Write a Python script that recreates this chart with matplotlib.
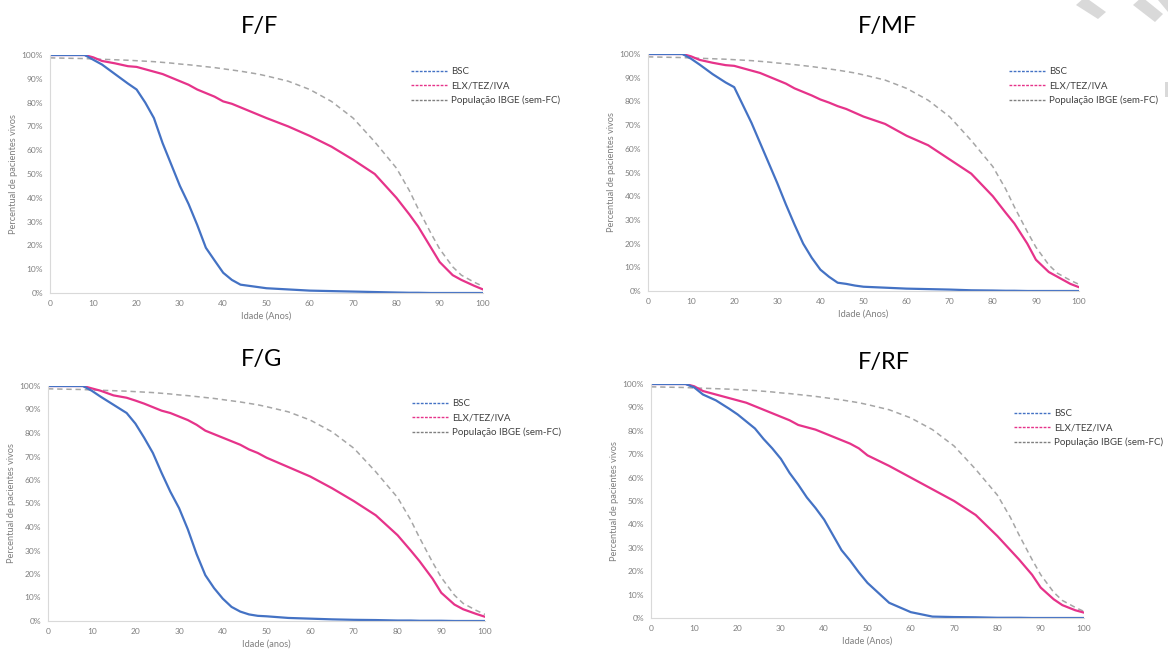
import numpy as np
import matplotlib
matplotlib.use("Agg")
import matplotlib.pyplot as plt
from matplotlib.lines import Line2D
from matplotlib.patches import Polygon
from matplotlib.ticker import PercentFormatter

plt.rcParams['font.family'] = ['Lato', 'DejaVu Sans']

# idades (anos) em que as curvas foram lidas
idade = [0, 5, 8, 10, 12, 15, 18, 20, 22, 24, 26, 28, 30, 32, 34, 36, 38, 40, 42, 44,
         46, 48, 50, 55, 60, 65, 70, 75, 80, 83, 85, 88, 90, 93, 95, 98, 100]

# População IBGE (sem-FC) - igual nos quatro painéis
pop_ibge = [98.8, 98.6, 98.5, 98.3, 98.2, 98.0, 97.8, 97.6, 97.4, 97.2, 96.9, 96.6, 96.2, 95.9,
            95.5, 95.1, 94.7, 94.2, 93.7, 93.2, 92.6, 92.0, 91.2, 89.0, 85.5, 80.5, 73.5, 63.5,
            52.5, 43.0, 35.5, 25.0, 18.5, 11.0, 7.5, 4.5, 2.8]

# F/F
ff_bsc = [100, 100, 100, 98, 96, 92, 88, 85.5, 80, 73.5, 63, 54, 45, 37.4, 28.6, 19, 13.7, 8.5,
          5.5, 3.5, 3, 2.5, 2, 1.5, 1, 0.8, 0.6, 0.4, 0.2, 0.1, 0.1, 0, 0, 0, 0, 0, 0]
ff_elx = [100, 100, 100, 99, 97.5, 96.5, 95.3, 95, 94, 93, 92, 90.5, 89, 87.5, 85.5, 84, 82.5,
          80.5, 79.5, 78, 76.5, 75, 73.5, 70, 66, 61.5, 56, 50, 40, 33, 28, 19, 13, 7.5, 5.5,
          3, 1.5]

# F/MF
fmf_bsc = [100, 100, 100, 98, 95.5, 91.5, 88, 86, 78.5, 71, 62.5, 54, 45.5, 36.5, 28, 20, 14,
           9, 6, 3.5, 3, 2.3, 1.8, 1.4, 1, 0.8, 0.6, 0.3, 0.2, 0.1, 0.1, 0, 0, 0, 0, 0, 0]
fmf_elx = [100, 100, 100, 99, 97.5, 96.3, 95.3, 95, 94, 93, 92, 90.5, 89, 87.5, 85.5, 84, 82.5,
           80.8, 79.5, 78, 76.8, 75.2, 73.6, 70.5, 65.5, 61.5, 55.5, 49.5, 40, 33, 28.5, 20,
           13.2, 8, 6, 3, 1.6]

# F/G
fg_bsc = [100, 100, 100, 98, 95.5, 92, 88.5, 84, 78, 71.5, 63, 55, 48, 39, 28.5, 19.5, 14, 9.5,
          6, 4, 2.8, 2.2, 2, 1.3, 1, 0.7, 0.5, 0.4, 0.2, 0.2, 0.1, 0.1, 0.1, 0, 0, 0, 0]
fg_elx = [100, 100, 100, 99, 98, 96, 95, 93.8, 92.5, 91, 89.5, 88.5, 87, 85.5, 83.5, 81, 79.5,
          78, 76.5, 75, 73, 71.5, 69.5, 65.5, 61.5, 56.5, 51, 45, 36.5, 30, 25.5, 18, 12, 7,
          5, 3, 1.8]

# F/RF
frf_bsc = [100, 100, 100, 98.5, 95.5, 93, 89.5, 87, 84, 81, 76.5, 72.5, 68, 62, 57, 51.5, 47,
           42, 35.5, 29, 24.5, 19.5, 15, 6.5, 2.5, 0.6, 0.4, 0.3, 0.1, 0.1, 0.1, 0, 0, 0, 0,
           0, 0]
frf_elx = [100, 100, 100, 99, 97, 95.5, 94, 93, 92, 90.5, 89, 87.5, 86, 84.5, 82.5, 81.5, 80.5,
           79, 77.5, 76, 74.5, 72.5, 69.5, 65, 60, 55, 50, 44, 35, 29, 25, 18.5, 13, 8, 5.5,
           3.3, 2.3]

paineis = ['F/F', 'F/MF', 'F/G', 'F/RF']
bsc = [ff_bsc, fmf_bsc, fg_bsc, frf_bsc]
elx = [ff_elx, fmf_elx, fg_elx, frf_elx]
xlabels = ['Idade (Anos)', 'Idade (Anos)', 'Idade (anos)', 'Idade (Anos)']
legendas = ['BSC', 'ELX/TEZ/IVA', 'População IBGE (sem-FC)']

azul = '#4472C4'
rosa = '#E6338A'
cinza = '#A6A6A6'
cinza_txt = '#7F7F7F'

W, H = 1168, 649
fig = plt.figure(figsize=(W / 100, H / 100), dpi=100)

# posições em pixels: esquerda, topo, direita, base
caixas = [(50, 55, 483, 293), (648, 54, 1079, 291), (48, 386, 485, 621), (651, 384, 1084, 618)]
titulos_pos = [(260, 27), (887, 27), (262, 360), (884, 362)]
legenda_pos = [(411, 67), (1009, 67), (412, 399), (1014, 409)]

for i in range(4):
    l, t, r, b = caixas[i]
    ax = fig.add_axes([l / W, 1 - b / H, (r - l) / W, (b - t) / H])
    ax.plot(idade, pop_ibge, color=cinza, lw=1.1, ls=(0, (3.5, 2.5)))
    ax.plot(idade, elx[i], color=rosa, lw=1.6)
    ax.plot(idade, bsc[i], color=azul, lw=1.6)
    ax.set_xlim(0, 100)
    ax.set_ylim(0, 100)
    ax.set_xticks(range(0, 101, 10))
    ax.set_yticks(range(0, 101, 10))
    ax.yaxis.set_major_formatter(PercentFormatter(decimals=0))
    ax.tick_params(length=0, labelsize=6, colors=cinza_txt, pad=5)
    for s in ['top', 'right']:
        ax.spines[s].set_visible(False)
    for s in ['left', 'bottom']:
        ax.spines[s].set_color('#D9D9D9')
        ax.spines[s].set_linewidth(0.8)
    ax.set_xlabel(xlabels[i], fontsize=6.7, color=cinza_txt, labelpad=3)
    ax.set_ylabel('Percentual de pacientes vivos', fontsize=6.7, color=cinza_txt, labelpad=3)

    tx, ty = titulos_pos[i]
    fig.text(tx / W, 1 - ty / H, paineis[i], fontsize=17, ha='center', va='center')

    handles = [Line2D([], [], color=c, lw=1, ls=(0, (2, 1))) for c in [azul, rosa, '#808080']]
    lx, ly = legenda_pos[i]
    ax.legend(handles, legendas, loc='upper left', bbox_to_anchor=(lx / W, 1 - ly / H),
              bbox_transform=fig.transFigure, frameon=False, borderpad=0, borderaxespad=0,
              fontsize=7.0, handlelength=3.7, handletextpad=0.45, labelspacing=0.55,
              labelcolor='#404040')

# marcas cinza decorativas no canto superior direito
formas = [[(1076, 5), (1085, -3), (1106, 12), (1098, 19)],
          [(1133, 5), (1142, -3), (1163, 14), (1155, 22)],
          [(1158, 0), (1168, 0), (1168, 12)],
          [(1165, 82), (1168, 82), (1168, 97), (1165, 97)]]
for f in formas:
    fig.patches.append(Polygon([(x / W, 1 - y / H) for x, y in f], closed=True,
                               transform=fig.transFigure, color='#D9D9D9', lw=0))

fig.savefig('out.png', dpi=100)
